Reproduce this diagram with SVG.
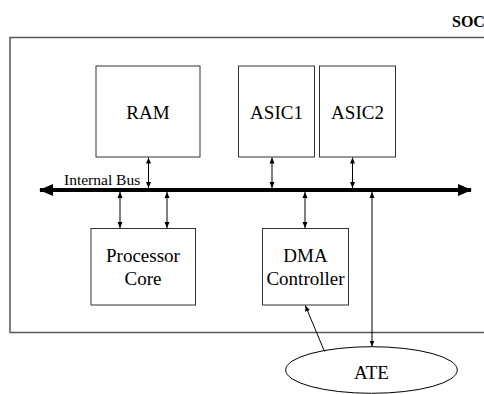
<svg xmlns="http://www.w3.org/2000/svg" width="484" height="394" viewBox="0 0 484 394" font-family="'Liberation Serif','Times New Roman',serif">
<defs>
<marker id="ah" viewBox="0 0 6 6" refX="6" refY="3" markerWidth="6" markerHeight="6" markerUnits="userSpaceOnUse" orient="auto-start-reverse">
<path d="M0,0.5 L6,3 L0,5.5 Z" fill="#000"/>
</marker>
<marker id="bh" viewBox="0 0 14 12" refX="13" refY="6" markerWidth="14" markerHeight="12" markerUnits="userSpaceOnUse" orient="auto-start-reverse">
<path d="M0,0 L14,6 L0,12 Z" fill="#000"/>
</marker>
</defs>
<style>
text{font-family:'Liberation Serif','Times New Roman',serif}
.box{fill:#fff;stroke:#333;stroke-width:1}
.t{font-size:19px;fill:#000;text-anchor:middle}
.c{stroke:#000;stroke-width:1;fill:none;marker-start:url(#ah);marker-end:url(#ah)}
</style>
<rect width="484" height="394" fill="#fff"/>
<g id="soc">
<rect x="10" y="37.5" width="490" height="295" fill="#fff" stroke="#555" stroke-width="1.5"/>
<text x="452" y="27" font-size="16" font-weight="bold" fill="#000">SOC</text>
</g>
<g id="ram"><rect class="box" x="96" y="66" width="104" height="91"/><text class="t" x="148" y="119">RAM</text></g>
<g id="asic1"><rect class="box" x="238.5" y="66" width="76" height="91"/><text class="t" x="276.5" y="119">ASIC1</text></g>
<g id="asic2"><rect class="box" x="319.5" y="66" width="76" height="91"/><text class="t" x="357.5" y="119">ASIC2</text></g>
<g id="cpu"><rect class="box" x="91" y="228.5" width="104.5" height="76.5"/><text class="t" x="143" y="262">Processor</text><text class="t" x="143" y="284.5">Core</text></g>
<g id="dma"><rect class="box" x="262.5" y="228.5" width="86" height="76.5"/><text class="t" x="305.5" y="262">DMA</text><text class="t" x="305.5" y="284.5">Controller</text></g>
<g id="ate"><ellipse cx="371.5" cy="370" rx="85.8" ry="23.3" fill="#fff" stroke="#000" stroke-width="1"/><text class="t" x="371.5" y="379">ATE</text></g>
<g id="bus">
<line x1="40" y1="190" x2="471" y2="190" stroke="#000" stroke-width="4" marker-start="url(#bh)" marker-end="url(#bh)"/>
<text x="64" y="185" font-size="15.5" fill="#000">Internal Bus</text>
</g>
<g id="connectors">
<line class="c" x1="148.5" y1="157.5" x2="148.5" y2="188"/>
<line class="c" x1="272" y1="157.5" x2="272" y2="188"/>
<line class="c" x1="352.5" y1="157.5" x2="352.5" y2="188"/>
<line class="c" x1="120" y1="192" x2="120" y2="228"/>
<line class="c" x1="167" y1="192" x2="167" y2="228"/>
<line class="c" x1="305" y1="192" x2="305" y2="228"/>
<line class="c" x1="372" y1="192" x2="372" y2="346.5"/>
<line x1="324.5" y1="351.5" x2="305.3" y2="305.5" stroke="#000" stroke-width="1" marker-end="url(#ah)"/>
</g>
</svg>
